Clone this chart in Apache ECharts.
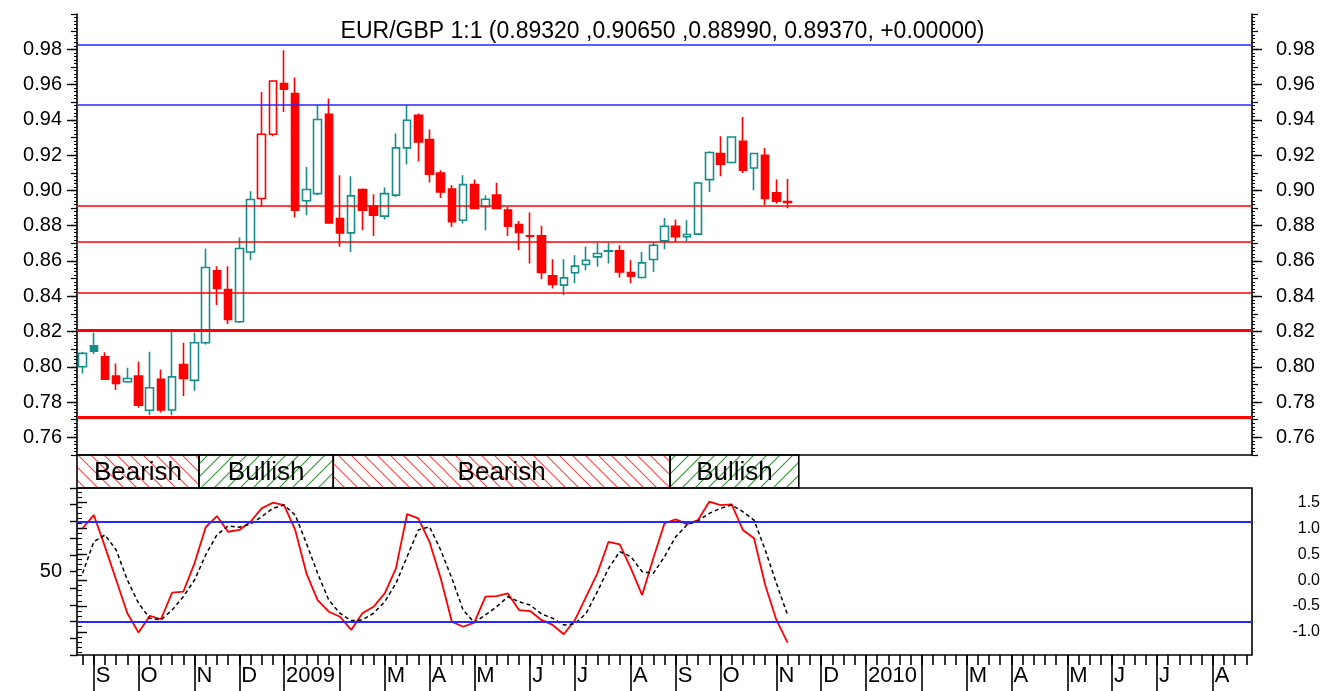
<!DOCTYPE html>
<html>
<head>
<meta charset="utf-8">
<title>EUR/GBP weekly</title>
<script src="https://cdn.jsdelivr.net/npm/echarts@6/dist/echarts.min.js"></script>
<style>
  html, body { margin: 0; padding: 0; background: #fff; }
  #chart { width: 1325px; height: 691px; }
</style>
</head>
<body>
<div id="chart"></div>
<script>
// weekly candles, one per friday from 29 Aug 2008 to 13 Nov 2009
const opens = [0.8000, 0.8119, 0.8057, 0.7947, 0.7915, 0.7947, 0.7754, 0.7929, 0.7755, 0.8013,
  0.7923, 0.8136, 0.8544, 0.8438, 0.8255, 0.8651, 0.8954, 0.9318, 0.9606, 0.9549,
  0.8941, 0.8982, 0.9432, 0.8841, 0.8759, 0.9005, 0.8911, 0.8854, 0.8973, 0.9241,
  0.9426, 0.9288, 0.9099, 0.9007, 0.8831, 0.9033, 0.8907, 0.8973, 0.8888, 0.8807,
  0.8743, 0.8742, 0.8516, 0.8463, 0.8533, 0.8580, 0.8623, 0.8655, 0.8657, 0.8535,
  0.8506, 0.8608, 0.8714, 0.8797, 0.8737, 0.8752, 0.9061, 0.9209, 0.9158, 0.9279,
  0.9127, 0.9199, 0.8986, 0.8932]
const closes = [0.8076, 0.8089, 0.7930, 0.7906, 0.7934, 0.7783, 0.7881, 0.7755, 0.7943, 0.7934,
  0.8136, 0.8563, 0.8444, 0.8268, 0.8671, 0.8948, 0.9318, 0.9620, 0.9573, 0.8888,
  0.9005, 0.9402, 0.8816, 0.8759, 0.8969, 0.8888, 0.8860, 0.8982, 0.9241, 0.9398,
  0.9275, 0.9092, 0.8991, 0.8822, 0.9033, 0.8897, 0.8950, 0.8897, 0.8797, 0.8762,
  0.8740, 0.8535, 0.8467, 0.8504, 0.8571, 0.8604, 0.8642, 0.8658, 0.8538, 0.8514,
  0.8589, 0.8689, 0.8797, 0.8737, 0.8750, 0.9042, 0.9215, 0.9149, 0.9303, 0.9114,
  0.9209, 0.8954, 0.8939, 0.8937]
const lows = [0.7962, 0.8072, 0.7925, 0.7868, 0.7909, 0.7768, 0.7726, 0.7741, 0.7726, 0.7834,
  0.7864, 0.8127, 0.8350, 0.8242, 0.8249, 0.8604, 0.8906, 0.9307, 0.9445, 0.8846,
  0.8859, 0.8973, 0.8812, 0.8680, 0.8651, 0.8774, 0.8741, 0.8835, 0.8963, 0.9147,
  0.9165, 0.9045, 0.8957, 0.8793, 0.8812, 0.8893, 0.8774, 0.8893, 0.8742, 0.8661,
  0.8586, 0.8497, 0.8444, 0.8406, 0.8473, 0.8548, 0.8567, 0.8586, 0.8506, 0.8473,
  0.8501, 0.8538, 0.8667, 0.8708, 0.8712, 0.8748, 0.8991, 0.9080, 0.9152, 0.9099,
  0.9001, 0.8916, 0.8926, 0.8899]
const highs = [0.8085, 0.8193, 0.8082, 0.8019, 0.7995, 0.8028, 0.8085, 0.7985, 0.8198, 0.8136,
  0.8193, 0.8671, 0.8570, 0.8570, 0.8733, 0.8995, 0.9558, 0.9622, 0.9794, 0.9640,
  0.9133, 0.9483, 0.9521, 0.9086, 0.9080, 0.9011, 0.8978, 0.9016, 0.9322, 0.9483,
  0.9436, 0.9345, 0.9114, 0.9030, 0.9086, 0.9062, 0.8973, 0.9043, 0.8906, 0.8826,
  0.8875, 0.8799, 0.8610, 0.8610, 0.8633, 0.8680, 0.8703, 0.8703, 0.8689, 0.8604,
  0.8651, 0.8708, 0.8844, 0.8835, 0.8831, 0.9048, 0.9222, 0.9307, 0.9307, 0.9416,
  0.9212, 0.9241, 0.9062, 0.9065]
// candle colour as drawn: t = teal, r = red
const tones = ['t', 't', 'r', 'r', 't', 'r', 't', 'r', 't', 'r',
  't', 't', 'r', 'r', 't', 't', 'r', 'r', 'r', 'r',
  't', 't', 'r', 'r', 't', 'r', 'r', 't', 't', 't',
  'r', 'r', 'r', 'r', 't', 'r', 't', 'r', 'r', 'r',
  'r', 'r', 'r', 't', 't', 't', 't', 't', 'r', 'r',
  't', 't', 't', 'r', 't', 't', 't', 'r', 't', 'r',
  't', 'r', 'r', 'r']

// oscillator (left scale 0..100)
const stochK = [75.9, 83.8, 64.9, 44.9, 25.0, 13.4, 23.4, 21.4, 37.3, 37.9,
  54.9, 76.5, 83.2, 73.8, 74.9, 79.8, 87.8, 91.2, 89.8, 74.9,
  48.9, 32.9, 25.9, 22.9, 15.0, 25.0, 28.9, 36.9, 51.9, 84.4,
  81.8, 67.8, 45.9, 19.9, 16.9, 19.4, 34.9, 35.3, 36.9, 26.9,
  26.3, 21.0, 18.0, 12.4, 21.0, 34.9, 48.9, 67.8, 66.3, 51.9,
  35.9, 57.9, 78.9, 81.2, 78.4, 80.8, 91.8, 89.8, 90.2, 74.9,
  69.9, 41.9, 21.0, 7.4]
const stochD = [48.9, 67.8, 71.9, 62.9, 44.9, 31.0, 22.0, 21.0, 26.9, 34.9,
  44.9, 59.9, 71.9, 77.2, 76.5, 78.4, 82.8, 87.8, 89.8, 83.8,
  66.9, 48.9, 32.9, 25.0, 20.6, 21.0, 25.0, 31.9, 42.9, 58.9,
  74.9, 76.8, 62.9, 45.9, 27.0, 19.4, 24.0, 28.9, 34.9, 31.9,
  29.9, 24.6, 22.0, 18.0, 18.6, 25.0, 37.9, 51.9, 61.9, 58.9,
  49.9, 48.9, 58.9, 70.8, 77.8, 80.4, 84.8, 87.8, 89.8, 85.8,
  80.8, 62.9, 42.9, 24.0]
const stochBands = [80, 20]

// horizontal price levels
const resistanceLevels = [0.9824, 0.9488]
const supportLevels = [0.8915, 0.8707, 0.8417]
const majorLevels = [0.8205, 0.7714]

// regime band, in weeks from the left edge
const regimeNames = ['Bearish', 'Bullish', 'Bearish', 'Bullish']
const regimeFrom = [0, 10.9, 22.9, 53]
const regimeTo = [10.9, 22.9, 53, 64.5]

const titleText = 'EUR/GBP 1:1 (0.89320 ,0.90650 ,0.88990, 0.89370, +0.00000)'

// axis runs two years of fridays
const firstFriday = Date.UTC(2008, 7, 29)
const weekCount = 105
const weeks = []
for (let i = 0; i < weekCount; i++) {
  weeks.push(new Date(firstFriday + i * 7 * 86400000).toISOString().slice(0, 10))
}
const monthOf = (i) => +weeks[i].slice(5, 7) - 1
const isMonthStart = (i) => i > 0 && monthOf(i) !== monthOf(i - 1)
const monthLetters = 'JFMAMJJASOND'

const FONT = '"Liberation Sans", Arial, sans-serif'
const TEAL = '#178c8c'
const RED = '#ff0000'
const BLUE = '#2626ff'
const CLEAR = 'rgba(255,255,255,0)'

function hatch (color, forward) {
  const s = 13
  const c = document.createElement('canvas')
  c.width = s
  c.height = s
  const g = c.getContext('2d')
  g.strokeStyle = color
  g.lineWidth = 1.1
  g.beginPath()
  if (forward) {
    g.moveTo(0, s); g.lineTo(s, 0)
    g.moveTo(-2, 2); g.lineTo(2, -2)
    g.moveTo(s - 2, s + 2); g.lineTo(s + 2, s - 2)
  } else {
    g.moveTo(0, 0); g.lineTo(s, s)
    g.moveTo(-2, s - 2); g.lineTo(2, s + 2)
    g.moveTo(s - 2, -2); g.lineTo(s + 2, 2)
  }
  g.stroke()
  return c
}
const bearPattern = hatch('#ff4a4a', false)
const bullPattern = hatch('#2f9a2f', true)

// rising weeks are hollow, falling weeks are filled
const candles = opens.map((o, i) => {
  const col = tones[i] === 'r' ? RED : TEAL
  const fill = closes[i] > o ? CLEAR : col
  return {
    value: [o, closes[i], lows[i], highs[i]],
    itemStyle: { color: fill, color0: fill, borderColor: col, borderColor0: col }
  }
})

const levelLines = []
resistanceLevels.forEach(v => levelLines.push({ yAxis: v, lineStyle: { color: BLUE, width: 1.6, type: 'solid' } }))
supportLevels.forEach(v => levelLines.push({ yAxis: v, lineStyle: { color: RED, width: 1.6, type: 'solid' } }))
majorLevels.forEach(v => levelLines.push({ yAxis: v, lineStyle: { color: RED, width: 3.2, type: 'solid' } }))

// grid geometry: price 0.75..1.00 over 441px, oscillator 0..100 over 167px
const L = 77
const R = 73
const black = { color: '#000', width: 1.6 }
const hiddenX = (g) => ({ type: 'value', gridIndex: g, show: false, min: 0, max: 1 })
const hiddenY = (g) => ({ type: 'value', gridIndex: g, show: false, min: 0, max: 1 })

const option = {
  animation: false,
  backgroundColor: '#fff',
  textStyle: { fontFamily: FONT },
  title: {
    text: titleText,
    left: 'center',
    top: 15,
    textStyle: { fontSize: 23, fontWeight: 'normal', color: '#000', fontFamily: FONT }
  },
  grid: [
    { left: L, right: R, top: 14, height: 441 },
    { left: L, right: R, top: 49.28, height: 388.08 },
    { left: L, right: R, top: 455, height: 33 },
    { left: L, right: R, top: 488, height: 167, show: true, borderColor: '#000', borderWidth: 1.6, backgroundColor: 'transparent' },
    { left: L, right: R, top: 488, height: 167 },
    { left: L, right: R, top: 492.04, height: 160.58 },
    { left: L, right: R, top: 502.4, height: 129.5 }
  ],
  xAxis: [
    {
      type: 'category', gridIndex: 0, data: weeks, boundaryGap: true,
      axisLine: { lineStyle: black }, axisTick: { show: false }, axisLabel: { show: false }
    },
    hiddenX(1),
    { type: 'value', gridIndex: 2, show: false, min: 0, max: weekCount },
    {
      type: 'category', gridIndex: 3, data: weeks, boundaryGap: true,
      axisLine: { show: false },
      axisTick: { show: true, interval: 0, alignWithLabel: true, length: 10, lineStyle: black },
      axisLabel: { show: false }
    },
    {
      type: 'category', gridIndex: 4, data: weeks, boundaryGap: true,
      axisLine: { show: false },
      axisTick: { show: true, interval: (i) => isMonthStart(i), alignWithLabel: true, length: 36, lineStyle: black },
      axisLabel: {
        show: true,
        interval: (i) => isMonthStart(i),
        align: 'left',
        padding: [0, 0, 0, 2],
        margin: 10,
        fontSize: 22,
        color: '#000',
        fontFamily: FONT,
        formatter: (v) => {
          const m = +v.slice(5, 7) - 1
          if (m === 0) return v.slice(0, 4)
          if (m === 1) return ''
          return monthLetters[m]
        }
      }
    },
    hiddenX(5),
    hiddenX(6)
  ],
  yAxis: [
    {
      type: 'value', gridIndex: 0, position: 'left', min: 0.75, max: 1.0, interval: 0.01,
      axisLine: { show: true, lineStyle: black },
      axisTick: { show: true, length: 6, lineStyle: { color: '#000', width: 1.2 } },
      minorTick: { show: true, splitNumber: 5, length: 3, lineStyle: { color: '#000', width: 1 } },
      axisLabel: { show: false }, splitLine: { show: false }
    },
    {
      type: 'value', gridIndex: 0, position: 'right', min: 0.75, max: 1.0, interval: 0.01,
      axisLine: { show: true, lineStyle: black },
      axisTick: { show: true, length: 6, lineStyle: { color: '#000', width: 1.2 } },
      minorTick: { show: true, splitNumber: 5, length: 3, lineStyle: { color: '#000', width: 1 } },
      axisLabel: { show: false }, splitLine: { show: false }
    },
    {
      type: 'value', gridIndex: 1, position: 'left', min: 0.76, max: 0.98, interval: 0.02,
      axisLine: { show: false },
      axisTick: { show: true, length: 10, lineStyle: { color: '#000', width: 1.4 } },
      axisLabel: { margin: 15, fontSize: 20, color: '#000', fontFamily: FONT, formatter: (v) => v.toFixed(2) },
      splitLine: { show: false }
    },
    {
      type: 'value', gridIndex: 1, position: 'right', min: 0.76, max: 0.98, interval: 0.02,
      axisLine: { show: false },
      axisTick: { show: true, length: 10, lineStyle: { color: '#000', width: 1.4 } },
      axisLabel: { margin: 24, fontSize: 20, color: '#000', fontFamily: FONT, formatter: (v) => v.toFixed(2) },
      splitLine: { show: false }
    },
    hiddenY(2),
    {
      type: 'value', gridIndex: 3, position: 'left', min: 0, max: 100, interval: 10,
      axisLine: { show: false },
      axisTick: { show: true, length: 7, lineStyle: { color: '#000', width: 1.4 } },
      axisLabel: { margin: 15, fontSize: 20, color: '#000', fontFamily: FONT, formatter: (v) => (v === 50 ? '50' : '') },
      splitLine: { show: false }
    },
    hiddenY(4),
    {
      type: 'value', gridIndex: 5, position: 'right', min: -1.4, max: 1.7, interval: 0.1,
      axisLine: { show: false },
      axisTick: { show: true, length: 5, lineStyle: { color: '#000', width: 1.1 } },
      axisLabel: { show: false }, splitLine: { show: false }
    },
    {
      type: 'value', gridIndex: 6, position: 'right', min: -1.0, max: 1.5, interval: 0.5,
      axisLine: { show: false },
      axisTick: { show: true, length: 10, lineStyle: { color: '#000', width: 1.4 } },
      axisLabel: { margin: 68, align: 'right', fontSize: 16, color: '#000', fontFamily: FONT, formatter: (v) => v.toFixed(1) },
      splitLine: { show: false }
    }
  ],
  series: [
    {
      name: 'EUR/GBP',
      type: 'candlestick',
      xAxisIndex: 0,
      yAxisIndex: 0,
      barWidth: 8,
      itemStyle: { borderWidth: 1.6 },
      data: candles,
      markLine: {
        silent: true,
        precision: 5,
        symbol: ['none', 'none'],
        label: { show: false },
        data: levelLines
      }
    },
    {
      name: 'regime',
      type: 'custom',
      xAxisIndex: 2,
      yAxisIndex: 4,
      data: regimeFrom.map((f, i) => [f, regimeTo[i]]),
      renderItem: function (params, api) {
        const a = api.coord([api.value(0), 1])
        const b = api.coord([api.value(1), 0])
        const name = regimeNames[params.dataIndex]
        const img = name === 'Bullish' ? bullPattern : bearPattern
        return {
          type: 'group',
          children: [
            {
              type: 'rect',
              shape: { x: a[0], y: a[1], width: b[0] - a[0], height: b[1] - a[1] },
              style: { fill: { image: img, repeat: 'repeat' }, stroke: '#000', lineWidth: 1.6 }
            },
            {
              type: 'text',
              x: (a[0] + b[0]) / 2,
              y: (a[1] + b[1]) / 2 + 1,
              style: { text: name, align: 'center', verticalAlign: 'middle', fontSize: 26, fontFamily: FONT, fill: '#000' }
            }
          ]
        }
      }
    },
    {
      name: '%K',
      type: 'line',
      xAxisIndex: 3,
      yAxisIndex: 5,
      data: stochK,
      symbol: 'none',
      lineStyle: { color: RED, width: 1.8 },
      markLine: {
        silent: true,
        symbol: ['none', 'none'],
        label: { show: false },
        lineStyle: { color: BLUE, width: 2, type: 'solid' },
        data: stochBands.map(v => ({ yAxis: v }))
      }
    },
    {
      name: '%D',
      type: 'line',
      xAxisIndex: 3,
      yAxisIndex: 5,
      data: stochD,
      symbol: 'none',
      lineStyle: { color: '#000', width: 1.5, type: [4, 3] }
    }
  ]
}

const chart = echarts.init(document.getElementById('chart'))
chart.setOption(option)
</script>
</body>
</html>
